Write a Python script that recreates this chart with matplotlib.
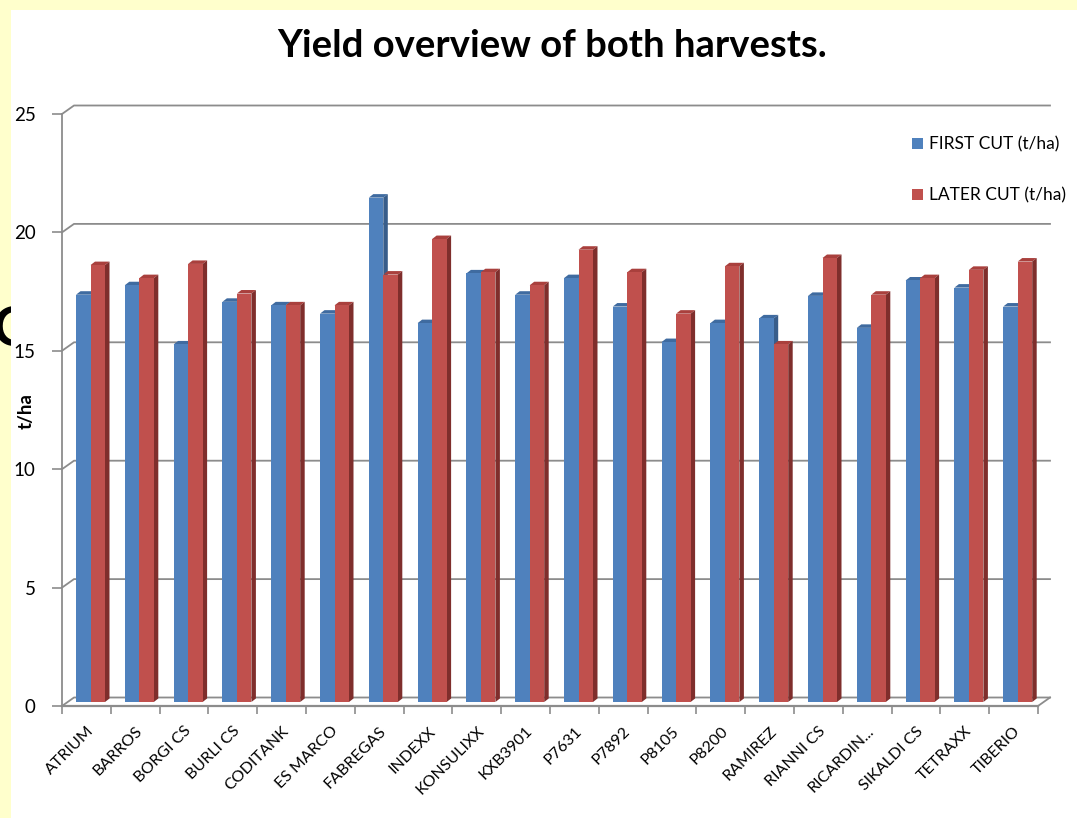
import numpy as np
import matplotlib
matplotlib.use("Agg")
import matplotlib.pyplot as plt
from matplotlib.patches import Rectangle, Polygon

varieties = ['ATRIUM', 'BARROS', 'BORGI CS', 'BURLI CS', 'CODITANK', 'ES MARCO',
             'FABREGAS', 'INDEXX', 'KONSULIXX', 'KXB3901', 'P7631', 'P7892',
             'P8105', 'P8200', 'RAMIREZ', 'RIANNI CS', 'RICARDIN...', 'SIKALDI CS',
             'TETRAXX', 'TIBERIO']
first_cut = [17.2, 17.6, 15.1, 16.9, 16.75, 16.4, 21.3, 16.0, 18.1, 17.2,
             17.9, 16.7, 15.2, 16.0, 16.2, 17.15, 15.8, 17.8, 17.5, 16.7]
later_cut = [18.45, 17.9, 18.5, 17.25, 16.75, 16.75, 18.05, 19.55, 18.15, 17.6,
             19.1, 18.15, 16.4, 18.4, 15.1, 18.75, 17.2, 17.9, 18.25, 18.6]
y_ticks = [0, 5, 10, 15, 20, 25]

plt.rcParams['font.family'] = ['Lato', 'DejaVu Sans']

BLUE, BLUE_DARK, BLUE_TOP = '#4F81BD', '#385D8A', '#3F6BA0'
RED, RED_DARK, RED_TOP = '#C0504D', '#7F2E2C', '#A9403D'
GRID = '#8C8C8C'

fig = plt.figure(figsize=(10.77, 8.18), dpi=100)
fig.patch.set_facecolor('#FFFFCC')
# white slide panel over the yellow border, with a stray letter peeking out behind it
fig.text(-7 / 1077, 1 - 330 / 818, 'C', fontsize=40, fontweight='bold', color='black',
         ha='left', va='center', zorder=-2)
fig.add_artist(Rectangle((11 / 1077, 0), 1, 1 - 10 / 818, transform=fig.transFigure,
                         facecolor='white', edgecolor='none', zorder=-1))

ax = fig.add_axes([62 / 1077, 1 - 706 / 818, 976 / 1077, 592 / 818])
ax.set_facecolor('none')
n = len(varieties)
ax.set_xlim(0, n)
ax.set_ylim(0, 25)
for s in ax.spines.values():
    s.set_visible(False)

px = n / 976.0          # data units per pixel, x
py = 25 / 592.0         # data units per pixel, y
wdx, wdy = 12 * px, 8.5 * py      # wall depth
bdx, bdy = 4.5 * px, 3.5 * py     # bar depth
base = 4 * py

# back wall gridlines + floor
for v in y_ticks:
    ax.plot([0, wdx, n + wdx], [v, v + wdy, v + wdy], color=GRID, lw=1.3,
            clip_on=False, zorder=1)
ax.plot([n, n + wdx], [0, wdy], color=GRID, lw=1.3, clip_on=False, zorder=1)
ax.plot([0, n], [0, 0], color=GRID, lw=1.6, clip_on=False, zorder=1)
ax.plot([0, 0], [0, 25], color=GRID, lw=1.3, clip_on=False, zorder=1)

x = np.arange(n)
bw = 14.5 * px
off = 14 * px
b1 = ax.bar(x + off, first_cut, width=bw, bottom=base, align='edge', color=BLUE,
            zorder=3, label='FIRST CUT (t/ha)')
b2 = ax.bar(x + off + bw, later_cut, width=bw, bottom=base, align='edge', color=RED,
            zorder=4, label='LATER CUT (t/ha)')

# 3d tops and sides
for vals, x0s, side, top, z in [(first_cut, x + off, BLUE_DARK, BLUE_TOP, 2.5),
                                (later_cut, x + off + bw, RED_DARK, RED_TOP, 3.5)]:
    for x0, v in zip(x0s, vals):
        t = base + v
        x1 = x0 + bw
        ax.add_patch(Polygon([(x0, t), (x1, t), (x1 + bdx, t + bdy), (x0 + bdx, t + bdy)],
                             closed=True, facecolor=top, edgecolor='none', zorder=z))
        ax.add_patch(Polygon([(x1, base), (x1, t), (x1 + bdx, t + bdy), (x1 + bdx, base + bdy)],
                             closed=True, facecolor=side, edgecolor='none', zorder=z))

ax.set_yticks(y_ticks)
ax.set_yticklabels([str(v) for v in y_ticks], fontsize=13.5)
ax.tick_params(axis='y', length=7, width=1.2, color=GRID, pad=12)

ax.set_xticks(np.arange(n + 1))
ax.set_xticklabels([])
ax.tick_params(axis='x', which='major', length=6, width=1.2, color=GRID)
ax.set_xticks(x + 0.5, minor=True)
ax.set_xticklabels(varieties, minor=True, rotation=45, ha='right', va='top',
                   rotation_mode='anchor', fontsize=11.5)
ax.tick_params(axis='x', which='minor', length=0, pad=13)

ax.set_ylabel('t/ha', fontsize=13.5, fontweight='bold', va='center')
ax.yaxis.set_label_coords((26 - 62) / 976, (706 - 411) / 592)

fig.text(552 / 1077, 1 - 46 / 818, 'Yield overview of both harvests.', fontsize=27.5,
         fontweight='bold', ha='center', va='center')

ax.legend(handles=[b1, b2], loc='upper left', bbox_to_anchor=(896 / 1077, 1 - 121 / 818),
          bbox_transform=fig.transFigure, frameon=False, fontsize=12.5,
          handlelength=0.65, handleheight=0.65, handletextpad=0.35, labelspacing=2.0)

fig.savefig('out.png', dpi=100)
